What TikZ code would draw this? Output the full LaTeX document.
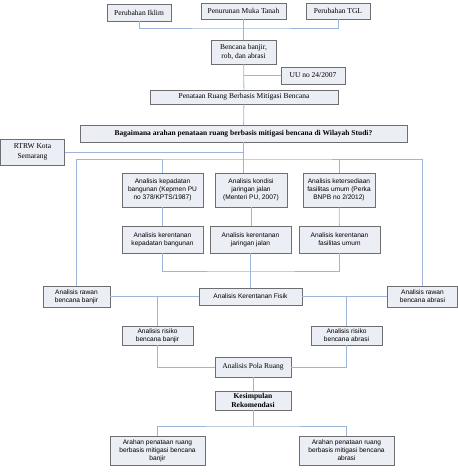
\documentclass[tikz,border=0pt]{standalone}
\usepackage{fontspec}
\setmainfont{Liberation Serif}
\setsansfont{Liberation Sans}
\definecolor{boxfill}{HTML}{ECEEF6}
\definecolor{boxline}{HTML}{6E6E70}
\definecolor{linkline}{HTML}{9DB5D6}
\begin{document}
\begin{tikzpicture}[x=1pt,y=-1pt,semithick]
	\tikzset{
		box/.style={draw=boxline,fill=boxfill,line width=0.8pt,inner sep=1pt,align=center,
			font=\fontsize{7.5}{9.5}\selectfont},
		sbox/.style={box,font=\sffamily\fontsize{6.6}{8}\selectfont},
		link/.style={draw=linkline,line width=0.8pt}
	}
	\useasboundingbox (0,0) rectangle (458,475);
	% baris atas
	\node[box,minimum width=64,minimum height=17] (iklim) at (139,12.5) {Perubahan Iklim};
	\node[box,minimum width=85,minimum height=16] (turun) at (243.5,11) {Penurunan Muka Tanah};
	\node[box,minimum width=64,minimum height=16] (tgl) at (338,11) {Perubahan TGL};
	\node[box,minimum width=65,minimum height=24] (bencana) at (243.5,52) {Bencana banjir,\\ rob, dan abrasi};
	\node[box,minimum width=64,minimum height=17] (uu) at (313,75.5) {UU no 24/2007};
	\node[box,minimum width=188,minimum height=14] (tata) at (244,97) {Penataan Ruang Berbasis Mitigasi Bencana};
	\node[box,minimum width=327,minimum height=17,font=\bfseries\fontsize{7.5}{9.5}\selectfont] (tanya) at (243.5,133.5)
		{Bagaimana arahan penataan ruang berbasis mitigasi bencana di Wilayah Studi?};
	\node[box,minimum width=64,minimum height=26] (rtrw) at (32.5,152) {RTRW Kota\\ Semarang};
	% analisis
	\node[sbox,minimum width=81,minimum height=34] (padat) at (162.5,190) {Analisis kepadatan\\ bangunan (Kepmen PU\\ no 378/KPTS/1987)};
	\node[sbox,minimum width=72,minimum height=34] (kondisi) at (251,190) {Analisis kondisi\\ jaringan jalan\\ (Menteri PU, 2007)};
	\node[sbox,minimum width=72,minimum height=34] (sedia) at (339,190) {Analisis ketersediaan\\ fasilitas umum (Perka\\ BNPB no 2/2012)};
	\node[sbox,minimum width=81,minimum height=27] (krpadat) at (162.5,239.5) {Analisis kerentanan\\ kepadatan bangunan};
	\node[sbox,minimum width=81,minimum height=27] (krjalan) at (250.5,239.5) {Analisis kerentanan\\ jaringan jalan};
	\node[sbox,minimum width=81,minimum height=27] (krfasum) at (339.5,239.5) {Analisis kerentanan\\ fasilitas umum};
	\node[sbox,minimum width=67,minimum height=21] (rwbanjir) at (76.5,296.5) {Analisis rawan\\ bencana banjir};
	\node[sbox,minimum width=103,minimum height=17] (fisik) at (250.5,296.5) {Analisis Kerentanan Fisik};
	\node[sbox,minimum width=70,minimum height=21] (rwabrasi) at (422.5,296.5) {Analisis rawan\\ bencana abrasi};
	\node[sbox,minimum width=71,minimum height=19] (rsbanjir) at (157.5,335.5) {Analisis risiko\\ bencana banjir};
	\node[sbox,minimum width=71,minimum height=19] (rsabrasi) at (346.5,335.5) {Analisis risiko\\ bencana abrasi};
	\node[box,minimum width=76,minimum height=20] (pola) at (253,367) {Analisis Pola Ruang};
	\node[box,minimum width=76,minimum height=19,font=\bfseries\fontsize{7.5}{9}\selectfont] (simpul) at (253,400.5) {Kesimpulan\\ Rekomendasi};
	\node[sbox,minimum width=95,minimum height=29] (arbanjir) at (157.5,450.5) {Arahan penataan ruang\\ berbasis mitigasi bencana\\ banjir};
	\node[sbox,minimum width=95,minimum height=29] (arabrasi) at (346.5,450.5) {Arahan penataan ruang\\ berbasis mitigasi bencana\\ abrasi};
	% titik cabang
	\path (243.5,28)coordinate(j1) (243.5,159)coordinate(j2) (251,271)coordinate(j3) (253,426)coordinate(j4);
	% garis hubung
	\draw[link] (iklim.south) |- (j1) -| (tgl.south);
	\draw[link] (turun) -- (bencana);
	\draw[link] (bencana) -- (tata);
	\draw[link] (uu.west) -- (uu.west -| bencana.south);
	\draw[link] (tata) -- (tanya);
	\draw[link] (tanya.south) -- (tanya.south |- kondisi.north);
	\draw[link] (rtrw.east) -- (rtrw.east -| tanya.south);
	\draw[link] (rwbanjir.north) |- (j2) -| (rwabrasi.north);
	\foreach \n in {padat,sedia} \draw[link] (\n.north) -- (\n.north |- j2);
	\draw[link] (padat) -- (krpadat);
	\draw[link] (kondisi.south) -- (kondisi.south |- krjalan.north);
	\draw[link] (sedia) -- (krfasum);
	\draw[link] (krpadat.south) |- (j3) -| (krfasum.south);
	\draw[link] (krjalan.south) -- (krjalan.south |- fisik.north);
	\draw[link] (rwbanjir) -- (fisik) -- (rwabrasi);
	\foreach \n in {rsbanjir,rsabrasi} \draw[link] (\n.north) -- (\n.north |- fisik.west);
	\draw[link] (rsbanjir.south) |- (pola.west);
	\draw[link] (rsabrasi.south) |- (pola.east);
	\draw[link] (pola) -- (simpul);
	\draw[link] (simpul.south) -- (j4);
	\draw[link] (arbanjir.north) |- (j4) -| (arabrasi.north);
\end{tikzpicture}
\end{document}
